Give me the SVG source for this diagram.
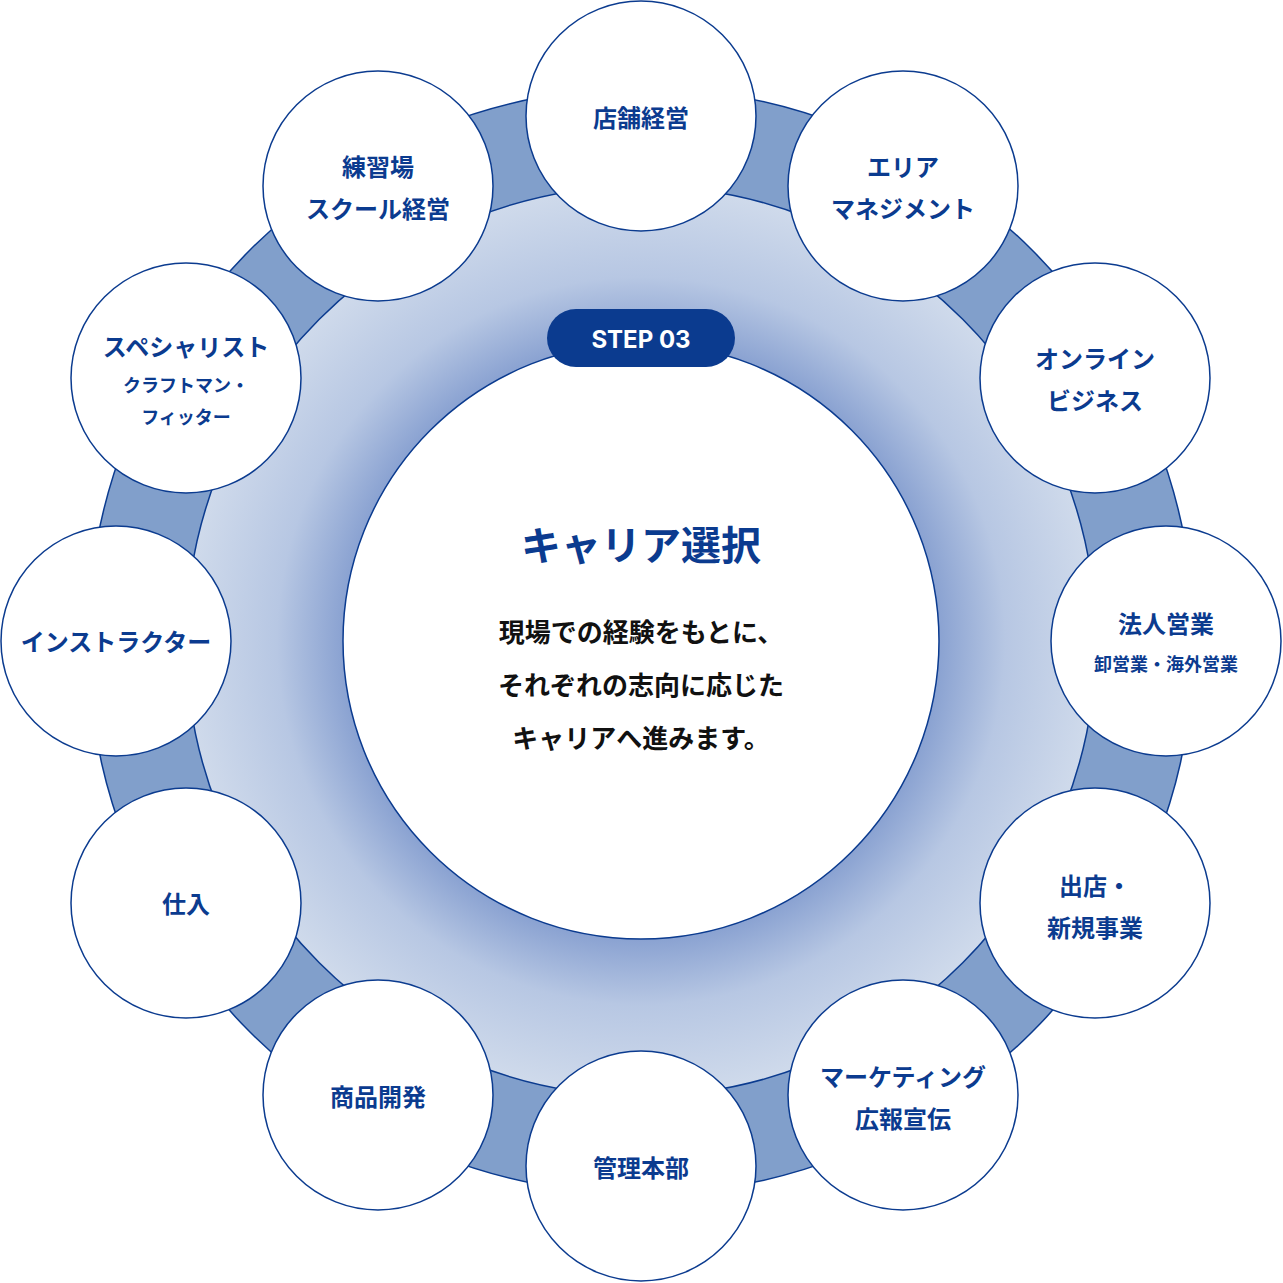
<svg xmlns="http://www.w3.org/2000/svg" width="1283" height="1283" viewBox="0 0 1283 1283">
<defs>
<radialGradient id="g" cx="641" cy="641" r="455" gradientUnits="userSpaceOnUse">
<stop offset="0.62" stop-color="#7f99cd"/>
<stop offset="0.8" stop-color="#b7c7e3"/>
<stop offset="1" stop-color="#cfdaeb"/>
</radialGradient>
<style>
.n{fill:#fff;stroke:#0b3b8f;stroke-width:1.5}
.t{font-family:"Noto Sans CJK JP","Noto Sans",sans-serif;font-weight:700;fill:#0b3b8f;text-anchor:middle;font-size:24px}
.s{font-size:18px}
.b{font-family:"Noto Sans CJK JP","Noto Sans",sans-serif;font-weight:700;fill:#111;text-anchor:middle;font-size:26px}
</style>
</defs>
<rect width="1283" height="1283" fill="#fff"/>
<g id="ring">
<circle cx="641" cy="641" r="455" fill="url(#g)"/>
<circle cx="641" cy="641" r="504" fill="none" stroke="#819fcb" stroke-width="98"/>
<circle cx="641" cy="641" r="553" fill="none" stroke="#0b3b8f" stroke-width="1.5"/>
<circle cx="641" cy="641" r="455" fill="none" stroke="#0b3b8f" stroke-width="1.5"/>
</g>
<g id="center">
<circle cx="641" cy="641" r="298" class="n" stroke-width="2"/>
<rect x="547" y="309" width="188" height="58" rx="29" fill="#0b3b8f"/>
<text x="641" y="348" font-family="Inter,'Noto Sans',sans-serif" font-weight="700" font-size="24" fill="#fff" text-anchor="middle">STEP 03</text>
<text x="641" y="560" class="t" font-size="40" style="font-size:40px">キャリア選択</text>
<text x="641" y="642" class="b">現場での経験をもとに、</text>
<text x="641" y="695" class="b">それぞれの志向に応じた</text>
<text x="641" y="748" class="b">キャリアへ進みます。</text>
</g>
<g id="n1"><circle cx="641" cy="116" r="115" class="n"/><text x="641" y="127" class="t">店舗経営</text></g>
<g id="n2"><circle cx="903" cy="186" r="115" class="n"/><text x="903" y="176" class="t">エリア</text><text x="903" y="218" class="t">マネジメント</text></g>
<g id="n3"><circle cx="1095" cy="378" r="115" class="n"/><text x="1095" y="368" class="t">オンライン</text><text x="1095" y="410" class="t">ビジネス</text></g>
<g id="n4"><circle cx="1166" cy="641" r="115" class="n"/><text x="1166" y="633" class="t">法人営業</text><text x="1166" y="671" class="t s">卸営業・海外営業</text></g>
<g id="n5"><circle cx="1095" cy="903" r="115" class="n"/><text x="1095" y="895" class="t">出店・</text><text x="1095" y="937" class="t">新規事業</text></g>
<g id="n6"><circle cx="903" cy="1095" r="115" class="n"/><text x="903" y="1086" class="t">マーケティング</text><text x="903" y="1128" class="t">広報宣伝</text></g>
<g id="n7"><circle cx="641" cy="1166" r="115" class="n"/><text x="641" y="1177" class="t">管理本部</text></g>
<g id="n8"><circle cx="378" cy="1095" r="115" class="n"/><text x="378" y="1106" class="t">商品開発</text></g>
<g id="n9"><circle cx="186" cy="903" r="115" class="n"/><text x="186" y="913" class="t">仕入</text></g>
<g id="n10"><circle cx="116" cy="641" r="115" class="n"/><text x="116" y="651" class="t">インストラクター</text></g>
<g id="n11"><circle cx="186" cy="378" r="115" class="n"/><text x="186" y="356" class="t">スペシャリスト</text><text x="186" y="392" class="t s">クラフトマン・</text><text x="186" y="424" class="t s">フィッター</text></g>
<g id="n12"><circle cx="378" cy="186" r="115" class="n"/><text x="378" y="176" class="t">練習場</text><text x="378" y="218" class="t">スクール経営</text></g>
</svg>
